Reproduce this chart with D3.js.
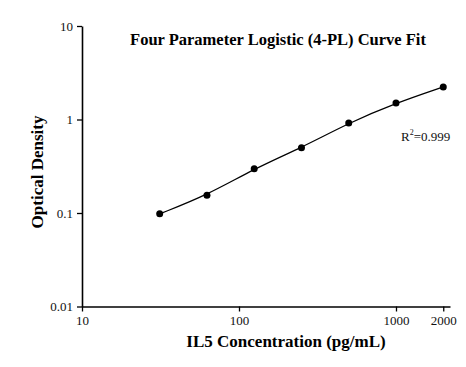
<!DOCTYPE html>
<html><head><meta charset="utf-8">
<script src="https://cdn.jsdelivr.net/npm/d3@7"></script>
<style>body{margin:0;background:#fff}svg{display:block}</style>
</head><body>
<svg id="c" width="466" height="367"></svg>
<script>
const concentrations = [31.25, 62.5, 125, 250, 500, 1000, 2000];
const opticalDensity = [0.098, 0.155, 0.298, 0.499, 0.918, 1.50, 2.23];
const xTicks = [10, 100, 1000, 2000];
const yTicks = [0.01, 0.1, 1, 10];
const xMinorTicks = [20,30,40,50,60,70,80,90,200,300,400,500,600,700,800,900];
const yMinorTicks = [0.02,0.03,0.04,0.05,0.06,0.07,0.08,0.09,0.2,0.3,0.4,0.5,0.6,0.7,0.8,0.9,2,3,4,5,6,7,8,9];
const title = "Four Parameter Logistic (4-PL) Curve Fit";
const xLabel = "IL5 Concentration (pg/mL)";
const yLabel = "Optical Density";

const svg = d3.select("#c");
const font = "'Liberation Serif','Times New Roman',serif";
const x = d3.scaleLog().domain([10, 2208]).range([82, 450]);
const y = d3.scaleLog().domain([0.01, 10]).range([306.5, 26]);

const gx = svg.append("g").attr("transform","translate(0,306.5)");
gx.call(d3.axisBottom(x).tickValues(xMinorTicks).tickSize(3).tickFormat(""))
  .call(g=>g.select(".domain").remove());
gx.call(d3.axisBottom(x).tickValues(xTicks).tickSize(5).tickSizeOuter(0).tickPadding(4).tickFormat(d3.format("d")));
gx.selectAll("line").attr("stroke","#000").attr("stroke-width",1.3);
gx.select(".domain").attr("stroke","#000").attr("stroke-width",1.6);
gx.attr("font-family",font);
gx.selectAll("text").attr("font-family",font).attr("font-size",13).attr("fill","#111");

const gy = svg.append("g").attr("transform","translate(82,0)");
gy.call(d3.axisLeft(y).tickValues(yMinorTicks).tickSize(3).tickFormat(""))
  .call(g=>g.select(".domain").remove());
gy.call(d3.axisLeft(y).tickValues(yTicks).tickSize(5).tickSizeOuter(0).tickPadding(4).tickFormat(d=>String(d)));
gy.selectAll("line").attr("stroke","#000").attr("stroke-width",1.3);
gy.select(".domain").attr("stroke","#000").attr("stroke-width",1.6);
gy.attr("font-family",font);
gy.selectAll("text").attr("font-family",font).attr("font-size",13).attr("fill","#111");

const pts = concentrations.map((c,i)=>[c, opticalDensity[i]]);
const line = d3.line().x(d=>x(d[0])).y(d=>y(d[1])).curve(d3.curveBasis);
svg.append("path").attr("d", line(pts)).attr("fill","none").attr("stroke","#000").attr("stroke-width",1.2);
svg.selectAll("circle.p").data(pts).enter().append("circle")
  .attr("cx",d=>x(d[0])).attr("cy",d=>y(d[1])).attr("r",3.5).attr("fill","#000");

svg.append("text").attr("x",278).attr("y",45).attr("text-anchor","middle")
  .attr("font-family",font).attr("font-weight","bold").attr("font-size",16.5).text(title);
svg.append("text").attr("x",286).attr("y",347).attr("text-anchor","middle")
  .attr("font-family",font).attr("font-weight","bold").attr("font-size",17).text(xLabel);
svg.append("text").attr("transform","translate(43,172) rotate(-90)").attr("text-anchor","middle")
  .attr("font-family",font).attr("font-weight","bold").attr("font-size",17).text(yLabel);
const r = svg.append("text").attr("x",401).attr("y",141)
  .attr("font-family",font).attr("font-size",13).attr("fill","#111");
r.append("tspan").text("R");
r.append("tspan").attr("dy",-6).attr("font-size",8).text("2");
r.append("tspan").attr("dy",6).text("=0.999");
</script>
</body></html>
